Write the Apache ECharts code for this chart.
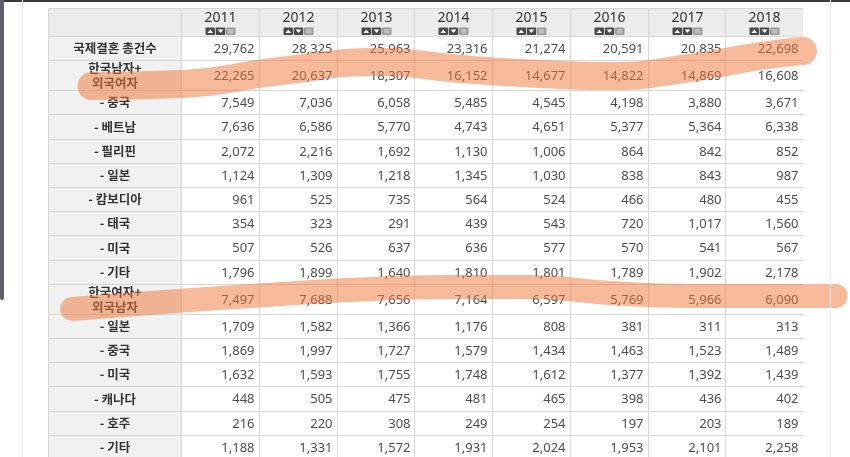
<!DOCTYPE html>
<html><head><meta charset="utf-8">
<script src="https://cdn.jsdelivr.net/npm/echarts@6/dist/echarts.min.js"></script>
<style>html,body{margin:0;padding:0;background:#fff}#c{width:850px;height:457px}</style>
</head><body><div id="c"></div>
<script>
// ---------- data ----------
const years = ['2011','2012','2013','2014','2015','2016','2017','2018'];
const rowLabels = ['국제결혼 총건수','한국남자+\n외국여자','- 중국','- 베트남','- 필리핀','- 일본','- 캄보디아','- 태국','- 미국','- 기타','한국여자+\n외국남자','- 일본','- 중국','- 미국','- 캐나다','- 호주','- 기타'];
const values2011 = [29762,22265,7549,7636,2072,1124,961,354,507,1796,7497,1709,1869,1632,448,216,1188];
const values2012 = [28325,20637,7036,6586,2216,1309,525,323,526,1899,7688,1582,1997,1593,505,220,1331];
const values2013 = [25963,18307,6058,5770,1692,1218,735,291,637,1640,7656,1366,1727,1755,475,308,1572];
const values2014 = [23316,16152,5485,4743,1130,1345,564,439,636,1810,7164,1176,1579,1748,481,249,1931];
const values2015 = [21274,14677,4545,4651,1006,1030,524,543,577,1801,6597,808,1434,1612,465,254,2024];
const values2016 = [20591,14822,4198,5377,864,838,466,720,570,1789,5769,381,1463,1377,398,197,1953];
const values2017 = [20835,14869,3880,5364,842,843,480,1017,541,1902,5966,311,1523,1392,436,203,2101];
const values2018 = [22698,16608,3671,6338,852,987,455,1560,567,2178,6090,313,1489,1439,402,189,2258];
// hand-drawn highlighter strokes: [column position (0 = left edge of 2011), table height position]
const highlight1 = [[-1.15,78],[-0.01,76],[1.27,63],[2.56,54],[3.59,61],[4.62,66],[5.52,68],[6.55,60],[7.45,48],[8.0,43]];
const highlight2 = [[-1.40,301],[-0.40,295],[0.89,288],[2.17,282],[3.46,279],[4.49,279],[5.52,285],[6.55,288],[7.58,288],[8.42,288]];

// ---------- layout ----------
const allValues = [values2011,values2012,values2013,values2014,values2015,values2016,values2017,values2018];
const HEADER_H = 28, ROW1 = 24.2, ROW2 = 30;
const rowH = rowLabels.map(l => l.split('\n').length > 1 ? ROW2 : ROW1);
const rowTop = []; let acc = HEADER_H;
rowH.forEach(h => { rowTop.push(acc); acc += h; });
const TOP = 8, H = 457 - TOP;
const LBL_L = 48, LBL_W = 133, YR_L = 181, YR_W = 622;
const colW = YR_W / years.length;

function span(r){ return r < 0 ? [0, HEADER_H] : [rowTop[r], rowTop[r] + rowH[r]]; }
const GRID = '#d6d6d6';
const NUMFONT = '"Noto Sans","DejaVu Sans",sans-serif';
const KRFONT = '"Noto Sans CJK KR",sans-serif';

function cellBox(api){
  const c = api.value(0), r = api.value(1);
  const s = span(r);
  const p0 = api.coord([c, s[0]]), p1 = api.coord([c, s[1]]);
  const w = api.size([1, 0])[0];
  return {x: Math.round(p0[0] - w/2) + 0.5, y: Math.round(p0[1]) + 0.5, w: Math.round(w), h: Math.round(p1[1]) - Math.round(p0[1]), r};
}

function labelItem(params, api){
  const b = cellBox(api);
  const kids = [{type:'rect', shape:{x:b.x, y:b.y, width:b.w, height:b.h},
    style:{fill: b.r < 0 ? '#ececec' : '#f1f1f1', stroke: GRID, lineWidth:1}}];
  if (b.r >= 0) {
    kids.push({type:'text', style:{text: rowLabels[b.r], x: b.x + b.w/2, y: b.y + b.h/2,
      align:'center', verticalAlign:'middle', fontFamily: KRFONT, fontSize:12.5, fontWeight:'bold',
      lineHeight:15, fill:'#333'}});
  }
  return {type:'group', children:kids};
}

function yearItem(params, api){
  const b = cellBox(api);
  const kids = [{type:'rect', shape:{x:b.x, y:b.y, width:b.w, height:b.h},
    style:{fill: b.r < 0 ? '#ececec' : '#ffffff', stroke: GRID, lineWidth:1}}];
  if (b.r < 0) {
    const cx = b.x + b.w/2;
    kids.push({type:'text', style:{text: years[api.value(0)], x: cx, y: b.y + 10,
      align:'center', verticalAlign:'middle', fontFamily: NUMFONT, fontSize:14, fill:'#333'}});
    const iy = b.y + 19, ih = 7.5, iw = 9.5;
    const xs = [cx - 15, cx - 4.75, cx + 5.5];
    kids.push({type:'rect', shape:{x:xs[0], y:iy, width:iw, height:ih, r:1}, style:{fill:'#4b4b4b'}});
    kids.push({type:'polygon', shape:{points:[[xs[0]+2,iy+5.5],[xs[0]+7.5,iy+5.5],[xs[0]+4.75,iy+2]]}, style:{fill:'#fff'}});
    kids.push({type:'rect', shape:{x:xs[1], y:iy, width:iw, height:ih, r:1}, style:{fill:'#4b4b4b'}});
    kids.push({type:'polygon', shape:{points:[[xs[1]+2,iy+2],[xs[1]+7.5,iy+2],[xs[1]+4.75,iy+5.5]]}, style:{fill:'#fff'}});
    kids.push({type:'rect', shape:{x:xs[2], y:iy, width:iw, height:ih, r:1}, style:{fill:'#9c9c9c'}});
    kids.push({type:'rect', shape:{x:xs[2]+2, y:iy+1.5, width:iw-4, height:ih-3}, style:{fill:'#bdbdbd'}});
  } else {
    const v = api.value(2);
    kids.push({type:'text', style:{text: Number(v).toLocaleString('en-US'), x: b.x + b.w - 5, y: b.y + b.h/2 + 0.5,
      align:'right', verticalAlign:'middle', fontFamily: NUMFONT, fontSize:13, fill:'#4d4d4d'}});
  }
  return {type:'group', children:kids};
}

const labelData = [[0,-1]].concat(rowLabels.map((l,i) => [0,i]));
const yearData = [];
years.forEach((y,c) => {
  yearData.push([c,-1,0]);
  allValues[c].forEach((v,r) => yearData.push([c,r,v]));
});

const yAxisBase = {type:'value', inverse:true, min:0, max:H, show:false};
const chart = echarts.init(document.getElementById('c'), null, {renderer:'canvas'});
chart.setOption({
  animation:false,
  backgroundColor:'#ffffff',
  graphic:[
    {type:'rect', shape:{x:0,y:0,width:850,height:2}, style:{fill:'#3a3a3a'}, z:100},
    {type:'rect', shape:{x:0,y:-6,width:4,height:306,r:[0,0,3,3]}, style:{fill:'#5f5d6d'}, z:100},
    {type:'rect', shape:{x:22,y:0,width:1,height:457}, style:{fill:'#ececec'}, z:100},
    {type:'rect', shape:{x:830,y:0,width:1,height:457}, style:{fill:'#eeeeee'}, z:100}
  ],
  grid:[
    {left:LBL_L, top:TOP, width:LBL_W, height:H},
    {left:YR_L, top:TOP, width:YR_W, height:H},
    {left:0, top:TOP, width:850, height:H}
  ],
  xAxis:[
    {type:'category', gridIndex:0, data:['label'], show:false},
    {type:'category', gridIndex:1, data:years, show:false},
    {type:'value', gridIndex:2, min:-YR_L/colW, max:(850-YR_L)/colW, show:false}
  ],
  yAxis:[
    Object.assign({gridIndex:0}, yAxisBase),
    Object.assign({gridIndex:1}, yAxisBase),
    Object.assign({gridIndex:2}, yAxisBase)
  ],
  series:[
    {type:'custom', xAxisIndex:0, yAxisIndex:0, data:labelData, renderItem:labelItem, clip:true, z:2},
    {type:'custom', xAxisIndex:1, yAxisIndex:1, data:yearData, renderItem:yearItem, clip:true, z:2},
    {type:'line', xAxisIndex:2, yAxisIndex:2, data:highlight1, smooth:0.5, symbol:'none', z:10,
      lineStyle:{width:28, color:'rgba(238,120,60,0.52)', cap:'round', join:'round'}},
    {type:'line', xAxisIndex:2, yAxisIndex:2, data:highlight2, smooth:0.5, symbol:'none', z:10,
      lineStyle:{width:24, color:'rgba(238,120,60,0.52)', cap:'round', join:'round'}}
  ]
});
</script></body></html>
